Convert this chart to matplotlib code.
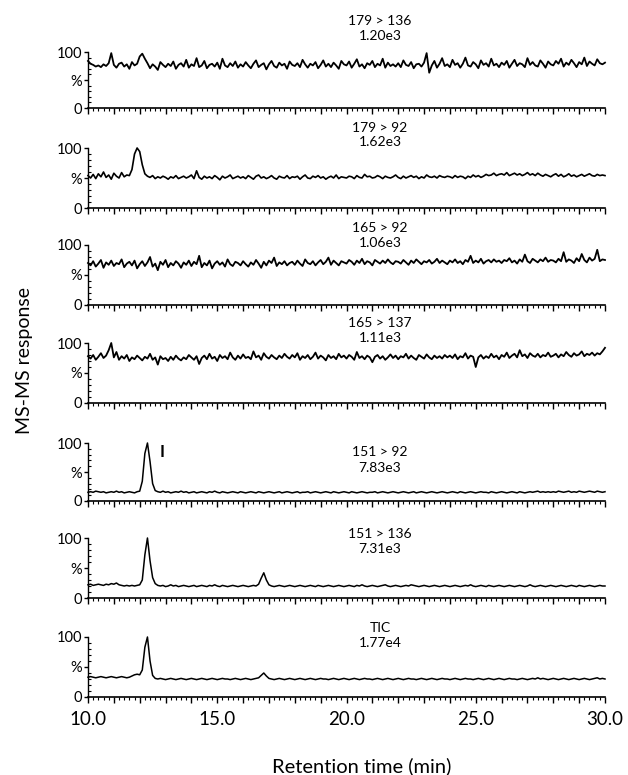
import numpy as np
import matplotlib
matplotlib.use("Agg")
import matplotlib.pyplot as plt
from matplotlib.ticker import MultipleLocator, FixedLocator, FuncFormatter

plt.rcParams['font.family'] = ['Lato', 'DejaVu Sans']

# ---------------- data ----------------
t_start, t_step = 10.0, 0.1   # retention time sampling (min)

trace_names = ["179 > 136", "179 > 92", "165 > 92", "165 > 137",
               "151 > 92", "151 > 136", "TIC"]
trace_scales = ["1.20e3", "1.62e3", "1.06e3", "1.11e3",
                "7.83e3", "7.31e3", "1.77e4"]

mrm_179_136 = [
    84, 79, 77, 74, 76, 73, 78, 75, 80, 98, 77, 72, 79, 81, 74, 78, 70, 82, 76, 79,
    92, 97, 88, 80, 71, 78, 74, 68, 82, 77, 73, 79, 75, 83, 70, 77, 80, 74, 86, 72,
    78, 75, 89, 73, 76, 84, 71, 77, 79, 74, 81, 70, 88, 76, 73, 80, 75, 83, 72, 78,
    74, 82, 76, 71, 79, 85, 73, 77, 80, 69, 78, 84, 75, 72, 81, 76, 79, 70, 83, 77,
    75, 80, 73, 86, 78, 72, 79, 76, 82, 71, 77, 85, 74, 79, 73, 81, 76, 70, 84, 78,
    76, 83, 72, 79, 87, 74, 78, 71, 80, 77, 84, 73, 79, 76, 88, 72, 81, 75, 78, 74,
    80, 73, 85, 77, 75, 82, 71, 78, 79, 74, 81, 98, 63, 76, 84, 72, 79, 89, 75, 78,
    73, 86, 77, 80, 72, 79, 90, 76, 74, 82, 78, 71, 85, 77, 80, 74, 88, 76, 79, 73,
    81, 77, 84, 72, 79, 86, 75, 80, 78, 73, 89, 77, 82, 76, 74, 85, 79, 72, 83, 78,
    76, 84, 79, 88, 74, 81, 77, 86, 80, 73, 82, 78, 90, 75, 83, 79, 76, 87, 80, 78,
    81]

mrm_179_92 = [
    54, 50, 56, 49, 57, 52, 60, 51, 55, 48, 58, 53, 50, 59, 52, 55, 54, 64, 90, 100,
    94, 72, 57, 53, 51, 54, 49, 52, 50, 53, 51, 48, 52, 50, 54, 49, 51, 53, 50, 52,
    55, 49, 62, 51, 48, 53, 50, 52, 49, 54, 51, 47, 53, 50, 52, 55, 49, 51, 53, 50,
    52, 49, 54, 51, 48, 53, 55, 50, 52, 49, 51, 54, 50, 48, 53, 51, 50, 54, 49, 52,
    51, 53, 48, 52, 55, 50, 49, 53, 51, 54, 50, 52, 48, 51, 53, 50, 55, 49, 52, 51,
    50, 53, 52, 49, 54, 51, 50, 56, 52, 53, 50, 51, 54, 52, 49, 53, 51, 50, 52, 55,
    51, 49, 53, 50, 52, 54, 51, 53, 49, 52, 50, 55, 52, 51, 53, 50, 54, 52, 51, 53,
    52, 50, 54, 51, 53, 52, 49, 53, 51, 55, 52, 54, 51, 53, 56, 54, 55, 58, 54, 56,
    57, 55, 59, 54, 56, 58, 55, 57, 54, 56, 59, 55, 57, 54, 58, 55, 53, 56, 54, 52,
    55, 57, 53, 56, 52, 54, 57, 53, 55, 52, 54, 56, 53, 55, 57, 54, 53, 56, 54, 55,
    54]

mrm_165_92 = [
    70, 66, 73, 64, 69, 75, 62, 71, 67, 74, 65, 70, 68, 76, 63, 69, 72, 66, 74, 61,
    68, 73, 65, 71, 80, 64, 69, 58, 72, 67, 75, 63, 70, 66, 73, 69, 62, 71, 67, 74,
    65, 72, 68, 82, 63, 70, 66, 74, 61, 69, 73, 67, 71, 64, 76, 68, 65, 72, 70, 66,
    73, 68, 64, 71, 67, 75, 69, 62, 72, 66, 74, 70, 79, 65, 71, 68, 73, 66, 70, 72,
    67, 74, 69, 65, 76, 70, 68, 73, 66, 71, 75, 68, 72, 79, 67, 74, 70, 66, 73, 71,
    69, 75, 72, 67, 74, 70, 77, 68, 73, 71, 66, 75, 72, 69, 74, 70, 76, 71, 68, 73,
    72, 69, 75, 71, 67, 74, 70, 76, 72, 68, 73, 71, 75, 69, 72, 77, 70, 74, 71, 68,
    74, 71, 76, 70, 73, 68, 75, 72, 82, 70, 74, 71, 77, 69, 73, 75, 71, 76, 72, 74,
    70, 75, 73, 78, 71, 74, 69, 76, 72, 84, 73, 70, 77, 74, 71, 76, 73, 79, 72, 75,
    74, 71, 77, 73, 88, 72, 76, 74, 70, 78, 73, 85, 75, 71, 79, 74, 77, 92, 73, 76,
    75]

mrm_165_137 = [
    78, 74, 80, 72, 77, 83, 75, 79, 88, 100, 76, 85, 72, 78, 74, 80, 70, 76, 73, 79,
    75, 71, 77, 74, 82, 72, 76, 64, 78, 73, 75, 70, 77, 72, 79, 74, 71, 76, 73, 80,
    76, 72, 78, 65, 75, 79, 73, 82, 74, 77, 70, 80, 75, 78, 73, 84, 76, 72, 79, 74,
    81, 75, 77, 73, 86, 76, 79, 72, 83, 77, 74, 80, 76, 73, 79, 75, 82, 77, 74, 80,
    76, 83, 72, 78, 75, 80, 73, 77, 84, 74, 79, 76, 71, 80, 75, 78, 73, 82, 76, 79,
    74, 80, 77, 72, 85, 75, 78, 73, 79, 76, 68, 77, 80, 74, 78, 72, 76, 81, 75, 79,
    73, 78, 76, 82, 74, 79, 75, 72, 80, 77, 74, 81, 76, 73, 79, 75, 78, 74, 80, 76,
    79, 75, 81, 73, 78, 76, 83, 74, 79, 77, 60, 76, 80, 74, 78, 75, 82, 76, 79, 73,
    80, 77, 84, 75, 79, 82, 76, 88, 78, 81, 75, 83, 79, 77, 82, 76, 80, 78, 84, 77,
    79, 82, 76, 81, 78, 85, 80, 77, 83, 79, 81, 86, 78, 82, 80, 84, 79, 83, 81, 86,
    92]

mrm_151_92 = [
    15, 16, 15, 17, 16, 15, 16, 14, 15, 16, 15, 17, 15, 16, 14, 15, 16, 15, 14, 16,
    17, 34, 82, 100, 68, 30, 18, 16, 15, 17, 15, 16, 14, 15, 16, 15, 17, 15, 16, 14,
    15, 16, 14, 15, 16, 15, 14, 16, 15, 17, 15, 14, 16, 15, 14, 15, 16, 15, 14, 16,
    15, 14, 15, 16, 15, 14, 16, 15, 14, 15, 16, 15, 14, 15, 16, 14, 15, 16, 15, 14,
    15, 16, 14, 15, 15, 16, 14, 15, 16, 15, 14, 15, 16, 15, 14, 16, 15, 14, 15, 16,
    15, 14, 16, 15, 14, 15, 16, 15, 14, 15, 15, 16, 14, 15, 16, 15, 14, 15, 16, 15,
    14, 15, 16, 15, 14, 15, 16, 14, 15, 16, 15, 14, 15, 16, 15, 14, 15, 16, 15, 14,
    15, 16, 15, 14, 16, 15, 14, 15, 16, 15, 14, 15, 16, 15, 15, 14, 16, 15, 14, 15,
    16, 15, 14, 15, 16, 15, 14, 16, 15, 14, 15, 16, 15, 16, 17, 15, 16, 15, 16, 15,
    16, 15, 17, 16, 15, 16, 17, 15, 16, 15, 17, 16, 15, 16, 17, 16, 15, 17, 16, 15,
    16]

mrm_151_136 = [
    22, 23, 21, 22, 23, 22, 21, 23, 22, 24, 23, 25, 22, 21, 20, 21, 20, 21, 20, 21,
    22, 30, 72, 100, 62, 34, 24, 21, 20, 21, 19, 20, 22, 20, 21, 19, 20, 21, 20, 19,
    20, 21, 19, 20, 21, 20, 19, 21, 20, 22, 20, 19, 21, 20, 19, 20, 21, 20, 19, 20,
    21, 20, 19, 20, 21, 20, 23, 33, 42, 30, 22, 20, 19, 20, 21, 20, 19, 20, 21, 20,
    19, 20, 21, 20, 19, 20, 21, 20, 19, 21, 20, 19, 20, 21, 20, 19, 20, 21, 20, 19,
    20, 21, 20, 19, 21, 20, 22, 20, 19, 20, 21, 20, 19, 20, 21, 22, 20, 19, 20, 21,
    20, 19, 20, 21, 20, 22, 21, 20, 19, 20, 21, 20, 19, 20, 21, 20, 19, 20, 21, 20,
    19, 20, 21, 20, 19, 20, 21, 20, 22, 20, 19, 20, 21, 20, 19, 21, 20, 19, 20, 21,
    20, 19, 20, 21, 20, 19, 20, 21, 20, 19, 20, 22, 20, 19, 20, 21, 20, 19, 20, 21,
    20, 19, 20, 21, 20, 19, 20, 21, 20, 19, 21, 20, 19, 20, 21, 20, 19, 20, 21, 20,
    20]

tic = [
    33, 34, 33, 32, 33, 34, 33, 32, 33, 34, 33, 32, 33, 34, 33, 32, 33, 35, 37, 38,
    37, 45, 83, 100, 60, 36, 31, 30, 31, 30, 29, 30, 31, 30, 29, 30, 31, 30, 29, 30,
    31, 30, 29, 30, 31, 30, 29, 30, 31, 30, 29, 30, 31, 30, 30, 29, 30, 31, 30, 29,
    30, 31, 30, 29, 30, 31, 32, 36, 40, 35, 31, 30, 29, 30, 31, 30, 29, 30, 31, 30,
    29, 30, 31, 30, 29, 30, 31, 30, 29, 30, 31, 30, 30, 29, 30, 31, 30, 29, 30, 31,
    30, 29, 30, 31, 30, 29, 30, 31, 30, 30, 29, 30, 31, 30, 29, 30, 31, 30, 29, 30,
    31, 30, 29, 30, 31, 30, 30, 29, 30, 31, 30, 29, 30, 31, 30, 29, 30, 31, 30, 30,
    29, 30, 31, 30, 29, 30, 31, 30, 30, 29, 30, 31, 30, 29, 30, 31, 30, 29, 30, 31,
    30, 29, 30, 31, 30, 30, 29, 30, 31, 30, 29, 30, 31, 30, 32, 30, 31, 30, 29, 30,
    31, 30, 29, 30, 31, 30, 29, 30, 31, 30, 29, 30, 31, 30, 29, 30, 31, 32, 30, 31,
    30]

traces = [mrm_179_136, mrm_179_92, mrm_165_92, mrm_165_137,
          mrm_151_92, mrm_151_136, tic]

x_tick_labels = ["10.0", "15.0", "20.0", "25.0", "30.0"]
peak_label = "I"

# ---------------- layout ----------------
W, H = 628, 775
fig = plt.figure(figsize=(W / 100, H / 100), dpi=100)

left_px, right_px = 88, 605
top_px = [52, 148, 245, 343, 443, 538, 637]
bot_px = [108, 208, 305, 403, 501, 598, 697]
title_px = [(21, 36), (128, 142), (228, 243), (323, 338),
            (452, 468), (534, 549), (628, 643)]
title_x = 380
line_w = [1.3, 1.2, 1.3, 1.3, 1.1, 1.1, 1.1]

def fx(px):
    return px / W

def fy(py):
    return 1 - py / H

axes = []
for i, vals in enumerate(traces):
    ax = fig.add_axes([fx(left_px), fy(bot_px[i]),
                       fx(right_px - left_px), (bot_px[i] - top_px[i]) / H])
    t = t_start + t_step * np.arange(len(vals))
    ax.plot(t, vals, color='black', lw=line_w[i], clip_on=False)
    ax.set_xlim(10, 30)
    ax.set_ylim(0, 100)
    for s in ['top', 'right']:
        ax.spines[s].set_visible(False)
    ax.spines['left'].set_linewidth(1.0)
    ax.spines['bottom'].set_linewidth(1.2)
    ax.yaxis.set_major_locator(FixedLocator([0, 50, 100]))
    ax.set_yticklabels(['0', '%', '100'], fontsize=10.5)
    ax.yaxis.set_minor_locator(MultipleLocator(10))
    ax.tick_params(axis='y', which='major', direction='out', length=3, width=1, pad=1)
    ax.tick_params(axis='y', which='minor', direction='in', length=2, width=0.8)
    ax.xaxis.set_major_locator(MultipleLocator(1.0))
    ax.xaxis.set_minor_locator(MultipleLocator(0.2))
    ax.tick_params(axis='x', which='major', direction='out', length=4, width=1)
    ax.tick_params(axis='x', which='minor', direction='out', length=2.5, width=0.8)
    if i == len(traces) - 1:
        lab = {10: x_tick_labels[0], 15: x_tick_labels[1], 20: x_tick_labels[2],
               25: x_tick_labels[3], 30: x_tick_labels[4]}
        ax.xaxis.set_major_formatter(
            FuncFormatter(lambda v, p: lab.get(int(round(v)), '') if abs(v - round(v)) < 1e-6 else ''))
        ax.tick_params(axis='x', which='major', labelsize=13.5, pad=6)
    else:
        ax.set_xticklabels([])
    axes.append(ax)

    fig.text(fx(title_x), fy(title_px[i][0]), trace_names[i],
             ha='center', va='center', fontsize=10)
    fig.text(fx(title_x), fy(title_px[i][1]), trace_scales[i],
             ha='center', va='center', fontsize=10)

axes[4].text(12.85, 84, peak_label, fontsize=12, ha='center', va='center',
             fontweight='bold')

fig.text(fx(362), fy(766), "Retention time (min)", ha='center', va='center',
         fontsize=14.5)
fig.text(fx(25), fy(360), "MS-MS response", ha='center', va='center',
         fontsize=14, rotation=90)

fig.savefig("out.png", dpi=100)
